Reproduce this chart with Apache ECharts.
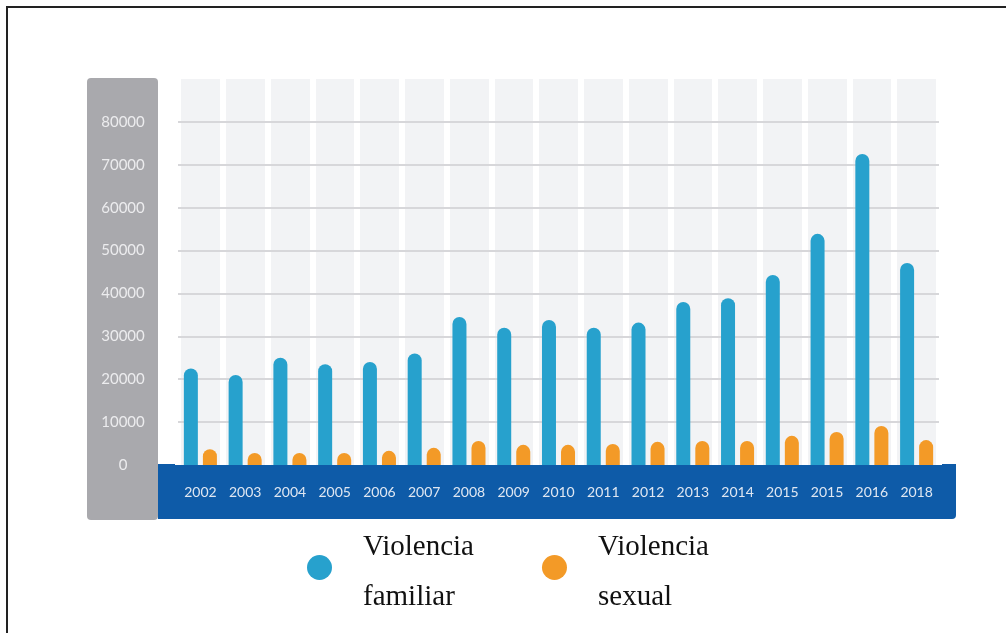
<!DOCTYPE html>
<html>
<head>
<meta charset="utf-8">
<script src="https://cdn.jsdelivr.net/npm/echarts@6/dist/echarts.min.js"></script>
<style>
html,body{margin:0;padding:0;background:#fff;}
#c{width:1006px;height:633px;}
</style>
</head>
<body>
<div id="c"></div>
<script>
var categories = ['2002','2003','2004','2005','2006','2007','2008','2009','2010','2011','2012','2013','2014','2015','2015','2016','2018'];
var familiar = [22500, 21000, 25000, 23500, 24000, 26000, 34500, 32000, 33800, 32000, 33200, 38000, 38900, 44300, 53900, 72500, 47100];
var sexual = [3700, 2800, 2800, 2800, 3300, 4000, 5600, 4700, 4700, 4900, 5400, 5600, 5600, 6800, 7700, 9100, 5800];
var seriesNames = ['Violencia\nfamiliar', 'Violencia\nsexual'];
var yMin = 0, yMax = 90000, yStep = 10000;

var chart = echarts.init(document.getElementById('c'), null, {renderer: 'canvas'});
var splitColors = [];
for (var v = yMin; v <= yMax; v += yStep) splitColors.push((v === yMax || v === yMin) ? 'rgba(0,0,0,0)' : '#d7d7da');

chart.setOption({
  animation: false,
  backgroundColor: '#ffffff',
  graphic: [
    {type: 'rect', z: -5, shape: {x: 87, y: 78, width: 71, height: 442, r: 4}, style: {fill: '#a9a9ad'}},
    {type: 'rect', z: -5, shape: {x: 158, y: 464, width: 798, height: 55, r: [0, 0, 4, 0]}, style: {fill: '#0e5ba8'}},
    {type: 'rect', z: -5, shape: {x: 6, y: 6, width: 1000, height: 2}, style: {fill: '#222222'}},
    {type: 'rect', z: -5, shape: {x: 6, y: 6, width: 2, height: 627}, style: {fill: '#222222'}}
  ],
  grid: {
    left: 178, right: 67, top: 79, bottom: 168,
    show: true, backgroundColor: '#f2f3f5', borderWidth: 0
  },
  legend: {
    data: seriesNames,
    left: 307, top: 533, padding: 0,
    icon: 'circle', itemWidth: 25, itemHeight: 25, itemGap: 68,
    formatter: function (name) {
      var parts = name.split('\n');
      return '{a|' + parts[0] + '}\n{b|' + parts[1] + '}';
    },
    textStyle: {
      fontFamily: 'Liberation Serif', fontSize: 29,
      color: '#111111', padding: [0, 0, 0, 26],
      rich: {
        a: {fontFamily: 'Liberation Serif', fontSize: 29, color: '#111111', lineHeight: 60},
        b: {fontFamily: 'Liberation Serif', fontSize: 29, color: '#111111', lineHeight: 40}
      }
    }
  },
  xAxis: {
    type: 'category',
    data: categories,
    boundaryGap: true,
    axisLine: {show: false},
    axisTick: {show: false},
    axisLabel: {
      margin: 20, fontFamily: 'Lato', fontSize: 14, color: '#dfe7f2', interval: 0
    },
    splitLine: {show: true, interval: 0, lineStyle: {color: '#ffffff', width: 6}}
  },
  yAxis: {
    type: 'value',
    min: yMin, max: yMax, interval: yStep,
    z: 3,
    axisLine: {show: false},
    axisTick: {show: false},
    axisLabel: {
      showMaxLabel: false, margin: 55, align: 'center',
      fontFamily: 'Lato', fontSize: 15, color: '#ececee',
      formatter: function (val) { return String(val); }
    },
    splitLine: {show: true, lineStyle: {color: splitColors, width: 2}}
  },
  series: [
    {
      name: seriesNames[0], type: 'bar', data: familiar,
      barWidth: 14, barGap: '36%', z: 4,
      itemStyle: {color: '#27a1cd', borderRadius: [7, 7, 0, 0]}
    },
    {
      name: seriesNames[1], type: 'bar', data: sexual,
      barWidth: 14, z: 4,
      itemStyle: {color: '#f39a27', borderRadius: [7, 7, 0, 0]}
    }
  ]
});
</script>
</body>
</html>
